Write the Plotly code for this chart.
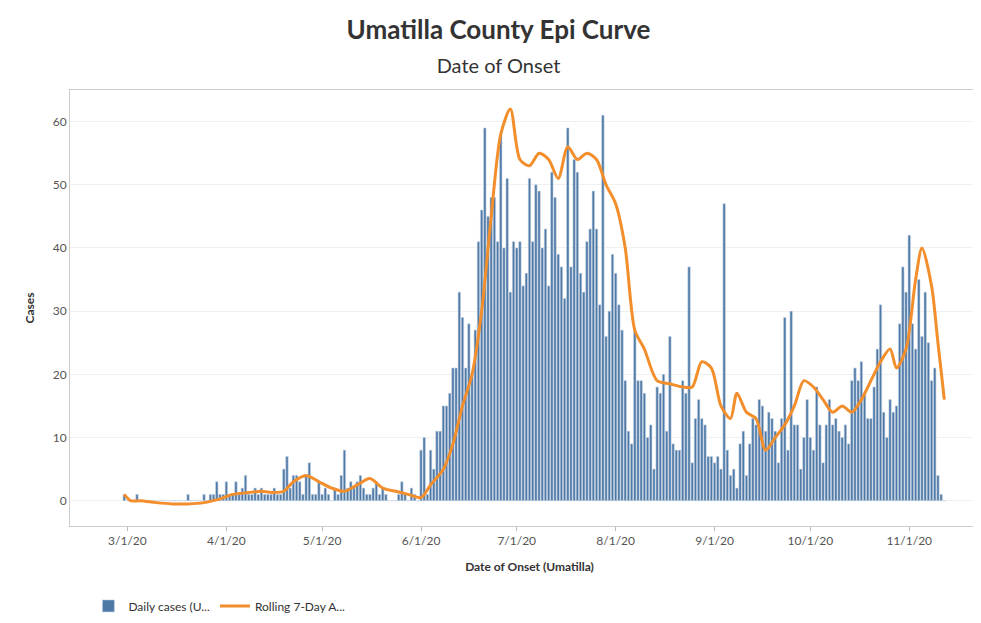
import pandas as pd
import plotly.graph_objects as go

start_date = "2020-02-29"
daily_cases = [
    1,
    0, 0, 0, 1, 0, 0, 0, 0, 0, 0, 0, 0, 0, 0, 0, 0, 0, 0, 0, 1, 0, 0, 0, 0, 1, 0, 1, 1, 3, 1, 1,
    3, 1, 1, 3, 1, 2, 4, 1, 1, 2, 1, 2, 1, 1, 1, 2, 1, 1, 5, 7, 2, 4, 4, 3, 1, 4, 6, 1, 1, 3,
    1, 2, 1, 0, 2, 1, 4, 8, 2, 3, 2, 3, 4, 2, 1, 1, 2, 3, 1, 2, 1, 0, 0, 0, 1, 3, 1, 0, 2, 1, 0,
    8, 10, 1, 8, 5, 11, 11, 15, 15, 17, 21, 21, 33, 29, 21, 28, 20, 27, 41, 46, 59, 45, 48, 48, 41, 58, 40, 51, 33, 41,
    40, 41, 34, 36, 51, 41, 50, 49, 40, 43, 34, 52, 48, 39, 37, 32, 59, 37, 54, 52, 36, 33, 41, 43, 49, 43, 31, 61,
    26, 30, 39, 36, 31, 27, 19, 11, 9, 27, 19, 19, 17, 10, 12, 5, 18, 17, 20, 11,
    26, 9, 8, 8, 19, 17, 37, 6, 13, 16, 13, 12, 7, 7, 6, 7, 5, 47, 8, 4,
    5, 2, 9, 11, 4, 9, 13, 12, 16, 15, 11, 14, 13, 11, 6, 13, 29, 8, 30,
    12, 12, 5, 10, 16, 10, 8, 18, 12, 6, 12, 16, 12, 13, 11, 10, 12, 9, 19, 21,
    19, 22, 17, 13, 13, 18, 24, 31, 14, 10, 16, 14, 15, 28, 37, 33, 42, 28, 24, 35,
    26, 33, 25, 19, 21, 4, 1, 0,
]
dates = pd.date_range(start_date, periods=len(daily_cases), freq="D")

rolling_dates = [
    "2020-02-29", "2020-03-02", "2020-03-05", "2020-03-10", "2020-03-15", "2020-03-20", "2020-03-25", "2020-03-30",
    "2020-04-03", "2020-04-08", "2020-04-12", "2020-04-16", "2020-04-19", "2020-04-22", "2020-04-26", "2020-04-30",
    "2020-05-04", "2020-05-08", "2020-05-12", "2020-05-16", "2020-05-20", "2020-05-24", "2020-05-28", "2020-06-01",
    "2020-06-04", "2020-06-08", "2020-06-11", "2020-06-14", "2020-06-17", "2020-06-20", "2020-06-23", "2020-06-26",
    "2020-06-29", "2020-07-02", "2020-07-05", "2020-07-08", "2020-07-11", "2020-07-14", "2020-07-17", "2020-07-20",
    "2020-07-23", "2020-07-26", "2020-07-29", "2020-08-01", "2020-08-04", "2020-08-07", "2020-08-10", "2020-08-14",
    "2020-08-18", "2020-08-22", "2020-08-25", "2020-08-28", "2020-08-31", "2020-09-03", "2020-09-06", "2020-09-08",
    "2020-09-11", "2020-09-14", "2020-09-17", "2020-09-20", "2020-09-23", "2020-09-26", "2020-09-29", "2020-10-02",
    "2020-10-05", "2020-10-08", "2020-10-11", "2020-10-14", "2020-10-17", "2020-10-20", "2020-10-23", "2020-10-26",
    "2020-10-28", "2020-10-31", "2020-11-03", "2020-11-05", "2020-11-08", "2020-11-10", "2020-11-12",
]
rolling_avg = [
    1, 0, 0, -0.3, -0.5, -0.5, -0.3, 0.3,
    1, 1.3, 1.5, 1.3, 1.5, 3, 4, 3,
    2, 1.5, 2.5, 3.5, 2, 1.5, 1, 0.5,
    2.5, 5, 9, 15, 20, 30, 45, 58,
    62, 54, 53, 55, 54, 51, 56, 54,
    55, 54, 50, 47, 40, 27, 24, 19,
    18.5, 18, 18, 22, 21, 15, 13, 17,
    14, 13, 8, 10, 12, 15, 19, 18,
    16, 14, 15, 14, 16, 19, 22, 24,
    21, 24, 35, 40, 34, 25, 16,
]

tick_vals = ["2020-03-01", "2020-04-01", "2020-05-01", "2020-06-01", "2020-07-01",
             "2020-08-01", "2020-09-01", "2020-10-01", "2020-11-01"]
tick_text = ["3/1/20", "4/1/20", "5/1/20", "6/1/20", "7/1/20", "8/1/20", "9/1/20", "10/1/20", "11/1/20"]

fig = go.Figure()
fig.add_trace(go.Bar(x=dates, y=daily_cases, name="Daily cases (U...",
                     marker=dict(color="#4e79a7", line=dict(color="#c5d2e2", width=0.6)),
                     width=86400000 * 0.75))
fig.add_trace(go.Scatter(x=rolling_dates, y=rolling_avg, name="Rolling 7-Day A...", mode="lines",
                         line=dict(color="#f28e2b", width=3, shape="spline", smoothing=0.8)))

fig.update_layout(
    width=981, height=623,
    paper_bgcolor="white", plot_bgcolor="white",
    font=dict(family="Lato, Open Sans, sans-serif", color="#333"),
    title=dict(text="<b>Umatilla County Epi Curve</b><br><span style='font-size:20px'>Date of Onset</span>",
               x=0.5, xanchor="center", y=0.95, yanchor="top", font=dict(size=26, color="#333")),
    margin=dict(l=62, r=0, t=82, b=105),
    bargap=0.2,
    showlegend=True,
    legend=dict(orientation="h", x=0.02, y=-0.15, xanchor="left", yanchor="top",
                font=dict(size=12, color="#333"), traceorder="normal"),
    xaxis=dict(tickvals=tick_vals, ticktext=tick_text, range=["2020-02-12", "2020-11-26"],
               showgrid=False, ticks="outside", ticklen=4, tickcolor="#bbb",
               title=dict(text="<b>Date of Onset (Umatilla)</b>", font=dict(size=12)),
               tickfont=dict(size=12, color="#555"), showline=True, linecolor="#ccc", mirror=True),
    yaxis=dict(range=[-4, 65], dtick=10, showgrid=True, gridcolor="#f0f0f0", zeroline=False,
               title=dict(text="<b>Cases</b>", font=dict(size=12)),
               tickfont=dict(size=12, color="#555"), showline=True, linecolor="#ccc"),
)
fig.write_html("out.html")
